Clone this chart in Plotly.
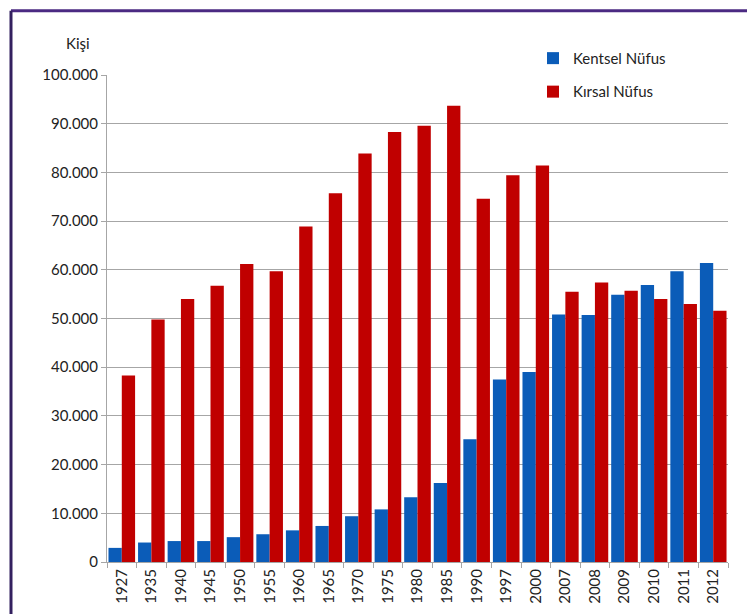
import plotly.graph_objects as go

years = ["1927", "1935", "1940", "1945", "1950", "1955", "1960", "1965", "1970", "1975",
         "1980", "1985", "1990", "1997", "2000", "2007", "2008", "2009", "2010", "2011", "2012"]
kentsel = [2900, 4000, 4300, 4300, 5100, 5700, 6500, 7400, 9400, 10800,
           13300, 16200, 25200, 37500, 39000, 50800, 50700, 54900, 56900, 59700, 61400]
kirsal = [38300, 49800, 54000, 56700, 61200, 59700, 68900, 75700, 83900, 88300,
          89600, 93700, 74600, 79400, 81400, 55500, 57400, 55700, 54000, 53000, 51600]
y_ticks = [0, 10000, 20000, 30000, 40000, 50000, 60000, 70000, 80000, 90000, 100000]
y_labels = ["0", "10.000", "20.000", "30.000", "40.000", "50.000", "60.000", "70.000",
            "80.000", "90.000", "100.000"]

FONT = "Lato, 'Open Sans', sans-serif"
TXT = "#222222"

fig = go.Figure()
fig.add_trace(go.Bar(x=years, y=kentsel, name="Kentsel Nüfus",
                     marker=dict(color="#0b5cb8", line=dict(width=0)),
                     legendgroup="a"))
fig.add_trace(go.Bar(x=years, y=kirsal, name="Kırsal Nüfus",
                     marker=dict(color="#c00000", line=dict(width=0)),
                     legendgroup="b"))

fig.update_layout(
    width=755, height=614,
    margin=dict(l=99, r=35, t=67, b=60),
    paper_bgcolor="white", plot_bgcolor="white",
    barmode="group", bargap=0.1, bargroupgap=0.0,
    font=dict(family=FONT, size=15, color=TXT),
    legend=dict(x=0.686, y=1.068, xanchor="left", yanchor="top",
                bgcolor="rgba(0,0,0,0)", font=dict(size=15, color=TXT),
                tracegroupgap=11, itemwidth=30),
    showlegend=True,
    annotations=[dict(text="Kişi", xref="paper", yref="paper", x=-0.024, y=1.066,
                      xanchor="right", yanchor="middle", showarrow=False,
                      font=dict(size=15, color=TXT))],
    shapes=[
        dict(type="line", xref="paper", yref="paper", x0=-0.1546, x1=1.06, y0=1.132, y1=1.132,
             line=dict(color="#4b2a82", width=3)),
        dict(type="line", xref="paper", yref="paper", x0=-0.1546, x1=-0.1546, y0=1.132, y1=-0.2,
             line=dict(color="#33205f", width=3)),
    ],
)
fig.update_xaxes(type="category", showline=True, linecolor="#a6a6a6", linewidth=1,
                 ticks="outside", tickson="boundaries", ticklen=5, tickcolor="#a6a6a6",
                 tickangle=-90, tickfont=dict(size=15, color=TXT), showgrid=False)
fig.update_yaxes(range=[0, 100000], tickvals=y_ticks, ticktext=y_labels,
                 showline=True, linecolor="#a6a6a6", linewidth=1,
                 ticks="outside", ticklen=5, tickcolor="#a6a6a6",
                 showgrid=True, gridcolor="#a6a6a6", gridwidth=1,
                 tickfont=dict(size=15, color=TXT), zeroline=False)

fig.write_html("out.html")
